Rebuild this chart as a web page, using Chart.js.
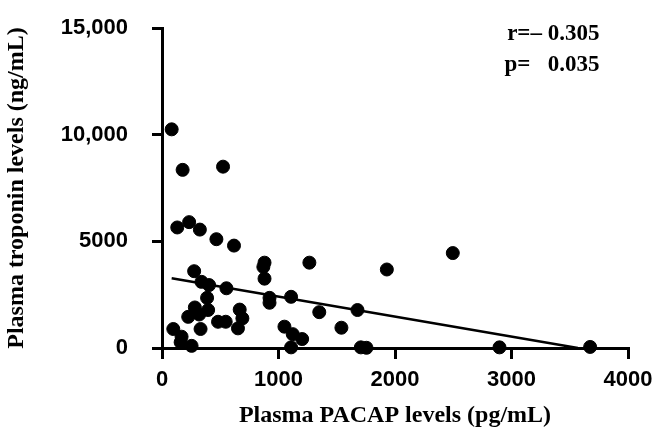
<!DOCTYPE html>
<html>
<head>
    <title>PACAP vs troponin</title>
    <script src="https://cdn.jsdelivr.net/npm/chart.js@4.4.0/dist/chart.umd.min.js"></script>
    <style>
        body {
            margin: 0;
            padding: 0;
            background: #fff;
        }
        #chart-box {
            width: 655px;
            height: 434px;
        }
    </style>
</head>
<body>
    <div id="chart-box">
        <canvas id="scatter-chart" width="655" height="434"></canvas>
    </div>

    <script>
        // values
        const pacap = [83, 177, 524, 131, 233, 325, 467, 618, 276, 339, 404, 553, 387, 282, 396, 225,
            319, 331, 481, 547, 667, 690, 652, 97, 168, 160, 254, 880, 870, 880, 923, 923,
            1108, 1051, 1265, 1350, 1678, 1540, 1122, 1203, 1108, 1707, 1755, 1930, 2496, 2897, 3675];
        const troponin = [10250, 8350, 8500, 5650, 5900, 5550, 5100, 4800, 3600, 3100, 2950, 2800, 2350, 1900, 1780, 1460,
            1570, 890, 1230, 1230, 1800, 1390, 920, 890, 530, 270, 100, 4000, 3800, 3250, 2350, 2120,
            2400, 1000, 4000, 1680, 1780, 950, 650, 420, 30, 30, 10, 3680, 4450, 30, 50];

        // fitted line, two ends
        const fitX = [83, 3570];
        const fitY = [3270, 0];

        const xTicks = [0, 1000, 2000, 3000, 4000];
        const yTicks = [0, 5000, 10000, 15000];
        const statLines = ['r=\u2013 0.305', 'p=   0.035'];
        const statY = [14720, 13250];
        const statX = 3755;

        const points = pacap.map((x, i) => ({x: x, y: troponin[i]}));
        const fitLine = fitX.map((x, i) => ({x: x, y: fitY[i]}));

        const tickFont = {family: 'Liberation Sans', size: 22, weight: 'bold'};
        const titleFont = {family: 'Liberation Serif', size: 24, weight: 'bold'};

        const statsPlugin = {
            id: 'stats',
            afterDatasetsDraw(chart) {
                const ctx = chart.ctx;
                ctx.save();
                ctx.font = 'bold 23px "Liberation Serif"';
                ctx.fillStyle = '#000';
                ctx.textAlign = 'right';
                ctx.textBaseline = 'middle';
                statLines.forEach((t, i) => {
                    ctx.fillText(t, chart.scales.x.getPixelForValue(statX), chart.scales.y.getPixelForValue(statY[i]));
                });
                ctx.restore();
            }
        };

        new Chart(document.getElementById('scatter-chart'), {
            type: 'scatter',
            data: {
                datasets: [
                    {
                        data: points,
                        backgroundColor: '#000',
                        borderColor: '#000',
                        pointRadius: 6.5,
                        clip: false
                    },
                    {
                        data: fitLine,
                        showLine: true,
                        borderColor: '#000',
                        borderWidth: 2.5,
                        pointRadius: 0,
                        clip: false
                    }
                ]
            },
            options: {
                responsive: false,
                animation: false,
                layout: {
                    padding: {top: 28, right: 27, bottom: 0, left: 0}
                },
                plugins: {
                    legend: {display: false},
                    tooltip: {enabled: false}
                },
                scales: {
                    x: {
                        type: 'linear',
                        min: 0,
                        max: 4000,
                        afterBuildTicks: (scale) => { scale.ticks = xTicks.map(v => ({value: v})); },
                        afterFit: (scale) => {
                            scale.height = 86;
                            scale.paddingLeft = 0;
                            scale.paddingRight = 0;
                        },
                        grid: {drawOnChartArea: false, drawTicks: true, tickLength: 11, color: '#000', lineWidth: 3},
                        border: {color: '#000', width: 3},
                        ticks: {
                            color: '#000',
                            font: tickFont,
                            padding: 8,
                            maxRotation: 0,
                            callback: (v) => String(v)
                        },
                        title: {
                            display: true,
                            text: 'Plasma PACAP levels (pg/mL)',
                            color: '#000',
                            font: titleFont,
                            padding: {top: 6, bottom: 4}
                        }
                    },
                    y: {
                        type: 'linear',
                        min: 0,
                        max: 15000,
                        afterBuildTicks: (scale) => { scale.ticks = yTicks.map(v => ({value: v})); },
                        afterFit: (scale) => {
                            scale.width = 162;
                            scale.paddingTop = 0;
                            scale.paddingBottom = 0;
                        },
                        grid: {drawOnChartArea: false, drawTicks: true, tickLength: 10, color: '#000', lineWidth: 3},
                        border: {color: '#000', width: 3},
                        ticks: {
                            color: '#000',
                            font: tickFont,
                            padding: 24,
                            callback: (v) => v >= 10000 ? v.toLocaleString('en-US') : String(v)
                        },
                        title: {
                            display: true,
                            text: 'Plasma troponin levels (ng/mL)',
                            color: '#000',
                            font: titleFont,
                            padding: {top: 2, bottom: 4}
                        }
                    }
                }
            },
            plugins: [statsPlugin]
        });
    </script>
</body>
</html>
